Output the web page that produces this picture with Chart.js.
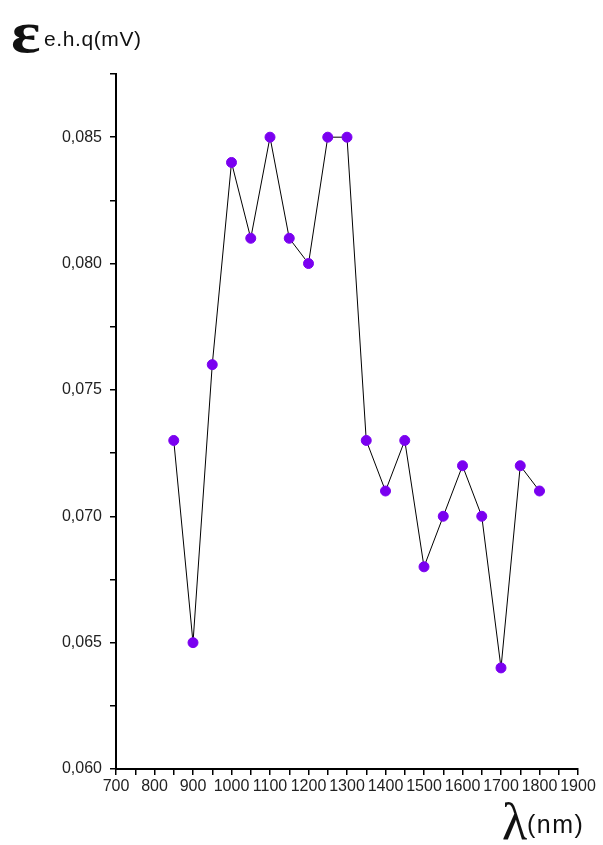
<!DOCTYPE html>
<html>
<head>
<meta charset="utf-8">
<script src="https://cdn.jsdelivr.net/npm/chart.js@4"></script>
<style>
  body { margin: 0; background: #fff; }
  #wrap { position: relative; width: 603px; height: 845px; }
  .lbl { position: absolute; color: #111; white-space: nowrap; line-height: 1; }
  .sym { font-family: "Liberation Serif", "DejaVu Serif", serif; }
  .txt { font-family: "Liberation Sans", Arial, sans-serif; }
</style>
</head>
<body>
<div id="wrap">
  <canvas id="chart" width="603" height="845"></canvas>
  <div class="lbl sym" style="left:11px; top:2px; font-size:60px; font-weight:bold; transform:scaleX(1.15); transform-origin:left top;">ε</div>
  <div class="lbl txt" style="left:44px; top:28px; font-size:21px; letter-spacing:0.6px;">e.h.q(mV)</div>
  <div class="lbl sym" style="left:502px; top:796px; font-size:52px;">λ</div>
  <div class="lbl txt" style="left:527px; top:812px; font-size:25px; letter-spacing:1.5px;">(nm)</div>
</div>
<script>
// wavelength (nm)
const wavelengths = [850, 900, 950, 1000, 1050, 1100, 1150, 1200, 1250, 1300,
                     1350, 1400, 1450, 1500, 1550, 1600, 1650, 1700, 1750, 1800];
// e.h.q (mV)
const ehq = [0.073, 0.065, 0.076, 0.084, 0.081, 0.085, 0.081, 0.080, 0.085, 0.085,
             0.073, 0.071, 0.073, 0.068, 0.070, 0.072, 0.070, 0.064, 0.072, 0.071];

const xMin = 700, xMax = 1900, xStep = 50;
const yMin = 0.060, yMax = 0.0875, yStep = 0.0025;

const points = wavelengths.map((w, i) => ({ x: w, y: ehq[i] }));

const ctx = document.getElementById("chart").getContext("2d");
new Chart(ctx, {
    type: "line",
    data: {
        datasets: [{
            data: points,
            borderColor: "#000",
            borderWidth: 1,
            pointBackgroundColor: "#7a00f0",
            pointBorderColor: "#7a00f0",
            pointRadius: 5,
            tension: 0,
        }],
    },
    options: {
        responsive: false,
        animation: false,
        layout: { padding: { left: 0, top: 74, right: 25, bottom: 46 } },
        plugins: { legend: { display: false }, tooltip: { enabled: false } },
        scales: {
            x: {
                type: "linear",
                min: xMin,
                max: xMax,
                afterFit: (s) => { s.height = 30; },
                border: { display: true, color: "#000", width: 2 },
                grid: { drawOnChartArea: false, drawTicks: true, tickLength: 6, color: "#000", lineWidth: 1.5 },
                ticks: {
                    stepSize: xStep,
                    autoSkip: false,
                    maxRotation: 0,
                    padding: 2,
                    color: "#222",
                    font: { family: "'Liberation Sans', Arial, sans-serif", size: 16 },
                    callback: (v) => (v % 100 === 0 ? String(v) : ""),
                },
            },
            y: {
                min: yMin,
                max: yMax,
                afterFit: (s) => { s.width = 116; },
                border: { display: true, color: "#000", width: 2 },
                grid: { drawOnChartArea: false, drawTicks: true, tickLength: 6, color: "#000", lineWidth: 1.5 },
                ticks: {
                    stepSize: yStep,
                    autoSkip: false,
                    padding: 8,
                    color: "#222",
                    font: { family: "'Liberation Sans', Arial, sans-serif", size: 16 },
                    callback: (v) => {
                        const m = Math.round(v * 10000);
                        return m % 50 === 0 ? (m / 10000).toFixed(3).replace(".", ",") : "";
                    },
                },
            },
        },
    },
});
</script>
</body>
</html>
